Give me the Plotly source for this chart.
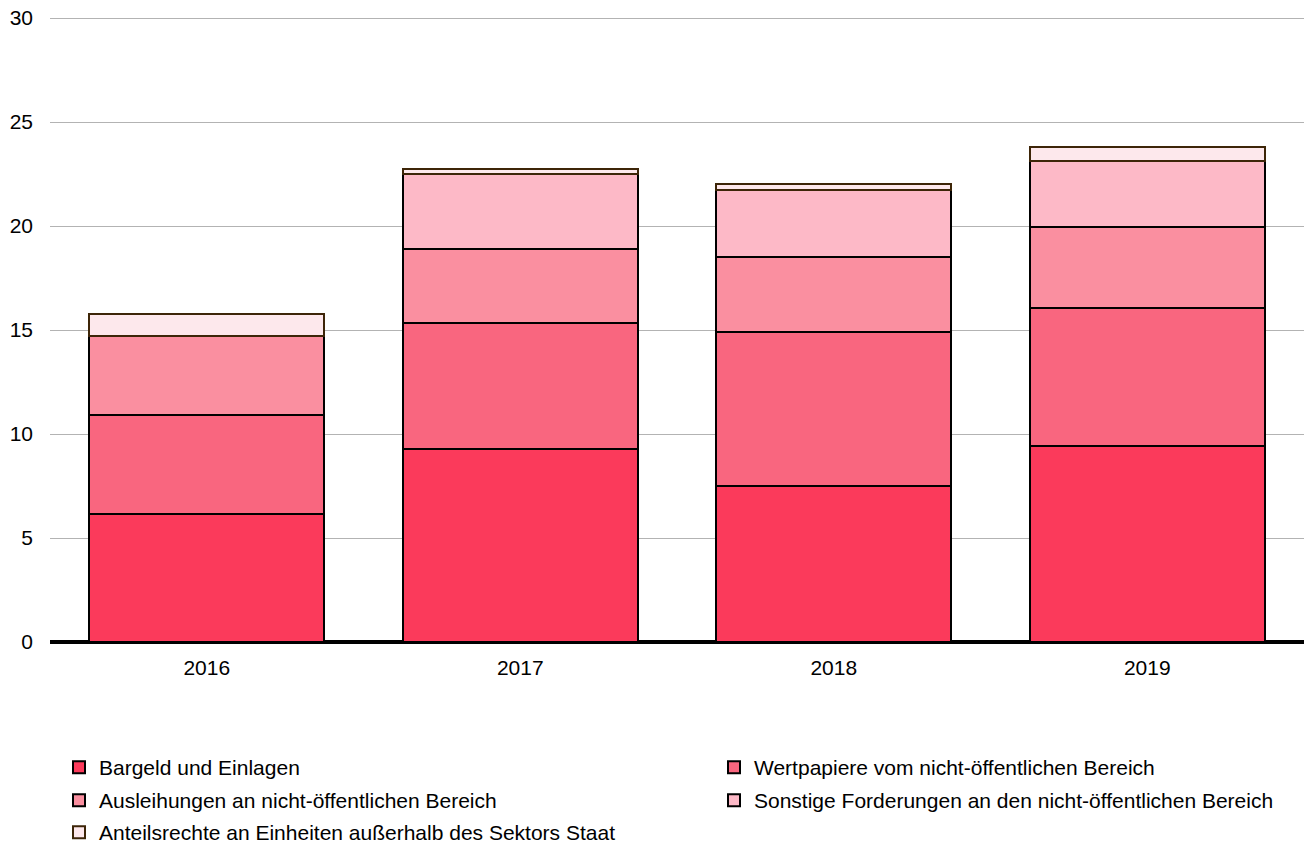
import plotly.graph_objects as go

years = ["2016", "2017", "2018", "2019"]
bargeld = [6.15, 9.28, 7.5, 9.42]
wertpapiere = [4.76, 6.06, 7.4, 6.64]
ausleihungen = [3.8, 3.55, 3.61, 3.89]
sonstige = [0.0, 3.59, 3.2, 3.2]
anteilsrechte = [1.06, 0.26, 0.29, 0.65]

series = [
    ("Bargeld und Einlagen", bargeld, "#FB3A5B", "#000000"),
    ("Wertpapiere vom nicht-öffentlichen Bereich", wertpapiere, "#F9667F", "#000000"),
    ("Ausleihungen an nicht-öffentlichen Bereich", ausleihungen, "#FA8FA0", "#000000"),
    ("Sonstige Forderungen an den nicht-öffentlichen Bereich", sonstige, "#FDB9C7", "#000000"),
    ("Anteilsrechte an Einheiten außerhalb des Sektors Staat", anteilsrechte, "#FDE8EC", "#3D2508"),
]

W, H = 1304, 845
# legend slot per series: (column x in px, row top in px)
legend_ids = ["legend", "legend2", "legend3", "legend4", "legend5"]
legend_pos = [(59, 747), (714, 747), (59, 780), (714, 780), (59, 812)]

fig = go.Figure()
for (name, vals, fill, line), lg in zip(series, legend_ids):
    fig.add_trace(go.Bar(
        x=years, y=vals, name=name, legend=lg,
        marker=dict(color=fill, line=dict(color=line, width=2)),
    ))

legend_common = dict(
    orientation="v", xref="container", yref="container",
    xanchor="left", yanchor="top", font=dict(size=21),
    traceorder="normal", itemwidth=30, bgcolor="rgba(0,0,0,0)",
)
legends = {
    lg: dict(x=px / W, y=1 - py / H, **legend_common)
    for lg, (px, py) in zip(legend_ids, legend_pos)
}

fig.update_layout(
    barmode="stack",
    bargap=0.25,
    width=W, height=H,
    margin=dict(l=50, r=0, t=16, b=203, autoexpand=False),
    plot_bgcolor="white", paper_bgcolor="white",
    font=dict(family="Liberation Sans, Arial, sans-serif", size=21, color="#000000"),
    showlegend=True,
    **legends,
    xaxis=dict(showgrid=False, showline=False, ticks="", ticklabelstandoff=11, automargin=False),
    yaxis=dict(
        range=[0, 30.1], tickvals=[0, 5, 10, 15, 20, 25, 30], showgrid=True,
        gridcolor="#B3B3B3", gridwidth=1,
        zeroline=True, zerolinecolor="#000000", zerolinewidth=4,
        showline=False, ticks="", ticklabelstandoff=16, automargin=False,
        ticklabeloverflow="allow",
    ),
)

fig.write_html("out.html", config={"displayModeBar": False},
               post_script="document.body.style.margin='0';")
